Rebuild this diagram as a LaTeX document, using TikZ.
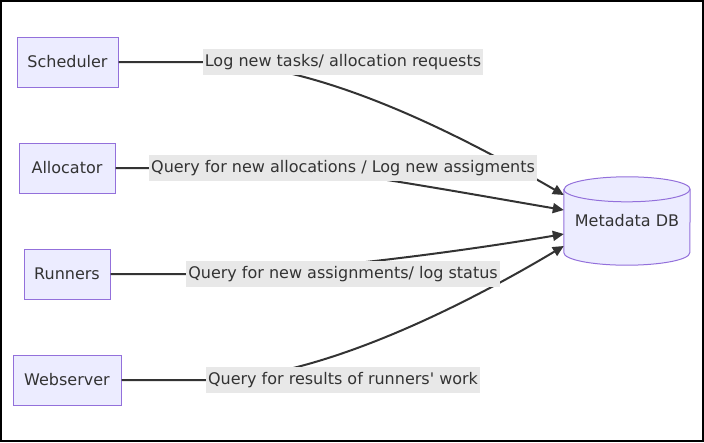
\documentclass[tikz,border=0pt]{standalone}
\usepackage{fontspec}
\newfontfamily\dvs{DejaVu Sans}
\usetikzlibrary{arrows.meta}
\definecolor{nodefill}{HTML}{ECECFF}
\definecolor{nodeline}{HTML}{9370DB}
\definecolor{labelbg}{HTML}{E8E8E8}
\definecolor{ink}{HTML}{333333}
\pgfdeclarelayer{bg}
\pgfsetlayers{bg,main}
\begin{document}
\begin{tikzpicture}[x=1pt,y=-1pt,
  txt/.style={text=ink, font=\dvs\fontsize{16}{19}\selectfont},
  box/.style={txt, draw=nodeline, fill=nodefill, line width=1pt, minimum height=50pt, inner sep=0pt},
  lbl/.style={txt, fill=labelbg, inner xsep=2pt, inner ysep=0pt, minimum height=26pt},
  edge/.style={draw=ink, line width=2pt, -{Triangle[length=11pt,width=10pt]}},
  dbshape/.style={draw=nodeline, fill=nodefill, line width=1pt}
]
\useasboundingbox (0,0) rectangle (704,442);
\draw[black, line width=2pt] (1,1) rectangle (703,441);

% nodes
\node[box, minimum width=101pt] (s) at (67.5,62) {Scheduler};
\node[box, minimum width=96pt]  (a) at (67,168) {Allocator};
\node[box, minimum width=86pt]  (r) at (67,274) {Runners};
\node[box, minimum width=108pt] (w) at (67,380) {Webserver};
\node[txt, minimum width=126pt, minimum height=88pt, inner sep=0pt] (db) at (627,221) {Metadata DB};

% cylinder drawn behind the db node
\begin{pgfonlayer}{bg}
\draw[dbshape] ([yshift=-12.5pt]db.north west) -- ([yshift=12.5pt]db.south west)
  arc[start angle=180, end angle=360, x radius=63pt, y radius=12.5pt]
  -- ([yshift=-12.5pt]db.north east)
  arc[start angle=0, end angle=180, x radius=63pt, y radius=12.5pt] -- cycle;
\draw[dbshape, fill=none] ([yshift=-12.5pt]db.north west)
  arc[start angle=180, end angle=360, x radius=63pt, y radius=12.5pt];
\end{pgfonlayer}

% arrow end points on the cylinder
\coordinate (e1) at ([yshift=26pt]db.west);
\coordinate (e2) at ([yshift=11pt]db.west);
\coordinate (e3) at ([yshift=-13pt]db.west);
\coordinate (e4) at ([yshift=-25pt]db.west);

% label positions
\coordinate (p1) at (343,62);
\coordinate (p2) at (343,168);
\coordinate (p3) at (343,274);
\coordinate (p4) at (343,380);

% edges
\draw[edge] (s.east) -- (202,62) .. controls (320,62) and (460,135) .. (e1);
\draw[edge] (a.east) -- (290,168) .. controls (340,170) and (470,194) .. (e2);
\draw[edge] (r.east) -- (188,274) .. controls (300,274) and (470,250) .. (e3);
\draw[edge] (w.east) -- (207,380) .. controls (320,380) and (470,302) .. (e4);

% labels
\node[lbl] (l1) at (p1) {Log new tasks/ allocation requests};
\node[lbl] (l2) at (p2) {Query for new allocations / Log new assigments};
\node[lbl] (l3) at (p3) {Query for new assignments/ log status};
\node[lbl] (l4) at (p4) {Query for results of runners' work};
\end{tikzpicture}
\end{document}
